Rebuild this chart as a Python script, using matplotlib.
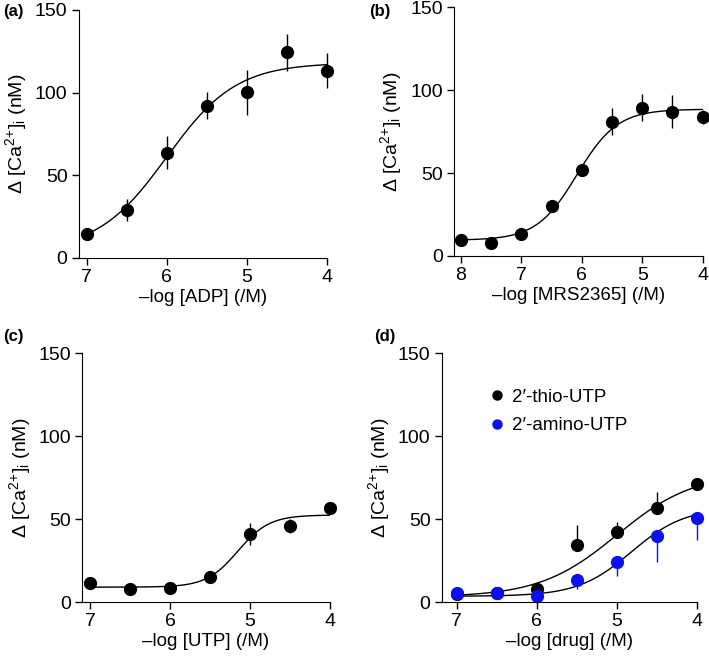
import numpy as np
import matplotlib
matplotlib.use('Agg')
import matplotlib.pyplot as plt
from matplotlib.lines import Line2D

plt.rcParams['font.family'] = ['Liberation Sans', 'DejaVu Sans']
plt.rcParams['mathtext.fontset'] = 'custom'
plt.rcParams['mathtext.rm'] = 'Liberation Sans'

# data (x = -log concentration, y = delta [Ca2+]i in nM)
x_adp = [7, 6.5, 6, 5.5, 5, 4.5, 4]
y_adp = [14.7, 28.9, 63.6, 92.1, 100.1, 124.4, 113.3]
e_adp = [3, 6.8, 10, 8.3, 13.5, 11.2, 10.6]

x_mrs = [8, 7.5, 7, 6.5, 6, 5.5, 5, 4.5, 4]
y_mrs = [9.7, 8.0, 13.3, 30.4, 51.9, 81.0, 89.5, 87.1, 83.8]
e_mrs = [1, 1, 1.5, 1.5, 2, 8, 8.3, 10.2, 4.5]

x_utp = [7, 6.5, 6, 5.5, 5, 4.5, 4]
y_utp = [11.7, 7.6, 8.6, 15.3, 41.2, 45.8, 56.9]
e_utp = [1, 1, 1, 1, 6.5, 4, 1.5]

x_drug = [7, 6.5, 6, 5.5, 5, 4.5, 4]
y_thio = [5.0, 5.6, 7.6, 34.2, 42.4, 56.9, 71.0]
e_thio = [0.5, 1, 1, 12, 6, 9.4, 1]
y_amino = [5.6, 5.6, 3.6, 13.3, 24.1, 39.8, 50.9]
e_amino = [1, 1, 1, 5.6, 8.5, 15.5, 13.5]

# fitted curve parameters (bottom, top, pEC50, hill)
fit_adp = (4, 118, 6.0, 1.0)
fit_mrs = (9.5, 88.5, 6.08, 1.3)
fit_utp = (9, 52.5, 5.15, 2.2)
fit_thio = (3, 78, 5.0, 0.9)
fit_amino = (3.5, 57, 4.82, 1.3)

blue = '#0a10f0'


def hill(x, p):
    bot, top, pec50, h = p
    return bot + (top - bot) / (1 + 10 ** ((x - pec50) * h))


def style(ax, xlim, xticks, xlabel):
    ax.spines['top'].set_visible(False)
    ax.spines['right'].set_visible(False)
    ax.set_xlim(xlim)
    ax.set_ylim(0, 150)
    ax.set_xticks(xticks)
    ax.set_yticks([0, 50, 100, 150])
    ax.tick_params(labelsize=14, length=5, width=1, pad=3)
    ax.set_xlabel(xlabel, fontsize=13.5, labelpad=2)
    ax.set_ylabel(r'Δ [Ca$\mathregular{^{2{+}}}$]$\mathregular{_i}$ (nM)', fontsize=14, labelpad=4)


def points(ax, x, y, err, color='black', **kw):
    ax.errorbar(x, y, yerr=err, fmt='o', color=color, ms=8.5, elinewidth=1,
                capsize=0, clip_on=False, **kw)


fig = plt.figure(figsize=(7.09, 6.58), dpi=100)
ax_a = fig.add_axes([0.111, 0.608, 0.350, 0.377])
ax_b = fig.add_axes([0.640, 0.611, 0.351, 0.378])
ax_c = fig.add_axes([0.116, 0.085, 0.349, 0.378])
ax_d = fig.add_axes([0.623, 0.085, 0.360, 0.378])

# (a)
xs = np.linspace(7, 4, 200)
ax_a.plot(xs, hill(xs, fit_adp), color='black', lw=1)
points(ax_a, x_adp, y_adp, e_adp)
style(ax_a, (7.1, 4), [7, 6, 5, 4], '–log [ADP] (/M)')

# (b)
xs = np.linspace(8, 4, 200)
ax_b.plot(xs, hill(xs, fit_mrs), color='black', lw=1)
points(ax_b, x_mrs, y_mrs, e_mrs)
style(ax_b, (8.12, 4), [8, 7, 6, 5, 4], '–log [MRS2365] (/M)')

# (c)
xs = np.linspace(7, 4, 200)
ax_c.plot(xs, hill(xs, fit_utp), color='black', lw=1)
points(ax_c, x_utp, y_utp, e_utp)
style(ax_c, (7.1, 4), [7, 6, 5, 4], '–log [UTP] (/M)')

# (d)
ax_d.plot(xs, hill(xs, fit_thio), color='black', lw=1)
ax_d.plot(xs, hill(xs, fit_amino), color='black', lw=1)
points(ax_d, x_drug, y_thio, [np.zeros(len(e_thio)), e_thio])
points(ax_d, x_drug, y_amino, [e_amino, np.zeros(len(e_amino))], color=blue)
style(ax_d, (7.19, 4), [7, 6, 5, 4], '–log [drug] (/M)')
handles = [Line2D([], [], ls='none', marker='o', ms=6.5, color='black'),
           Line2D([], [], ls='none', marker='o', ms=6.5, color=blue)]
ax_d.legend(handles, ["2′-thio-UTP", "2′-amino-UTP"], loc='upper left',
            bbox_to_anchor=(0.145, 0.895), frameon=False, fontsize=13.5,
            handletextpad=0.3, handlelength=1.0, labelspacing=0.6, borderpad=0)

for lbl, x, y in [('(a)', 0.004, 0.982), ('(b)', 0.521, 0.982),
                  ('(c)', 0.004, 0.488), ('(d)', 0.527, 0.488)]:
    fig.text(x, y, lbl, fontsize=12, fontweight='bold', va='center')

fig.savefig('out.png', dpi=100)
